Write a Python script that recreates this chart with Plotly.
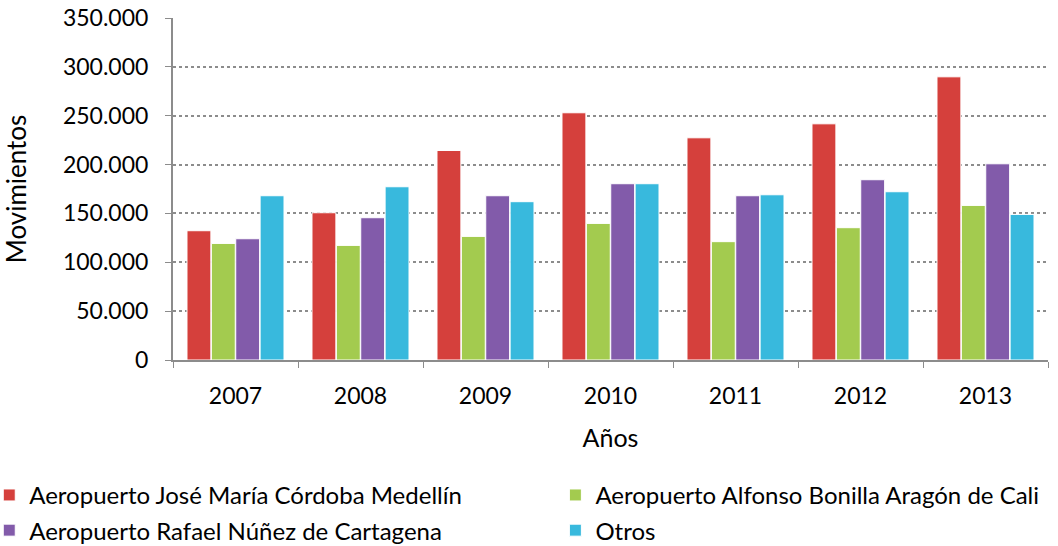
import plotly.graph_objects as go

# Datos
anios = ["2007", "2008", "2009", "2010", "2011", "2012", "2013"]
medellin = [132300, 150700, 214400, 253000, 227400, 241700, 289800]
cali = [119300, 117300, 126500, 139800, 121100, 135400, 158200]
cartagena = [124100, 145600, 168100, 180400, 168100, 184500, 200800]
otros = [168100, 177300, 162000, 180400, 169100, 172200, 149000]

# nombre, valores, color, leyenda (columna)
series = [
    ("Aeropuerto José María Córdoba Medellín", medellin, "#D5403C", "legend"),
    ("Aeropuerto Alfonso Bonilla Aragón de Cali", cali, "#A3CB4F", "legend2"),
    ("Aeropuerto Rafael Núñez de Cartagena", cartagena, "#825BAA", "legend"),
    ("Otros", otros, "#38B9DD", "legend2"),
]

fig = go.Figure()
for nombre, valores, color, ley in series:
    fig.add_trace(go.Bar(
        x=anios, y=valores, name=nombre, legend=ley, legendgroup=nombre,
        marker=dict(color=color, line=dict(color="white", width=1)),
    ))

ley_comun = dict(
    orientation="v", xanchor="left", yanchor="top", y=-0.33,
    font=dict(size=24), tracegroupgap=1, bgcolor="rgba(0,0,0,0)",
)

fig.update_layout(
    width=1058, height=546,
    margin=dict(l=173, r=10, t=18, b=186, autoexpand=False),
    paper_bgcolor="white", plot_bgcolor="white",
    font=dict(family="Lato, Carlito, sans-serif", size=23, color="black"),
    separators=",.",
    barmode="group", bargap=0.22, bargroupgap=0.02,
    showlegend=True,
    legend=dict(ley_comun, x=-0.21),
    legend2=dict(ley_comun, x=0.437),
)

fig.update_yaxes(
    range=[0, 350000], dtick=50000, tickformat=",.0f", automargin=False,
    ticklabeloverflow="allow",
    showgrid=True, gridcolor="#8c8c8c", griddash="dot", gridwidth=2,
    showline=True, linecolor="#8c8c8c", linewidth=2,
    ticks="outside", tickcolor="#8c8c8c", ticklen=6, ticklabelstandoff=12,
    title=dict(text="Movimientos", standoff=45, font=dict(size=26)), zeroline=False,
)
fig.update_xaxes(
    automargin=False, tickangle=0,
    showline=True, linecolor="#8c8c8c", linewidth=2,
    ticks="outside", tickson="boundaries", tickcolor="#8c8c8c", ticklen=6,
    ticklabelstandoff=14,
    title=dict(text="Años", standoff=22, font=dict(size=25)),
)

# quitar el margen de 8px que el navegador pone al body, sin barra de herramientas
fig.write_html("out.html", config={"displayModeBar": False},
               post_script="document.body.style.margin='0';")
